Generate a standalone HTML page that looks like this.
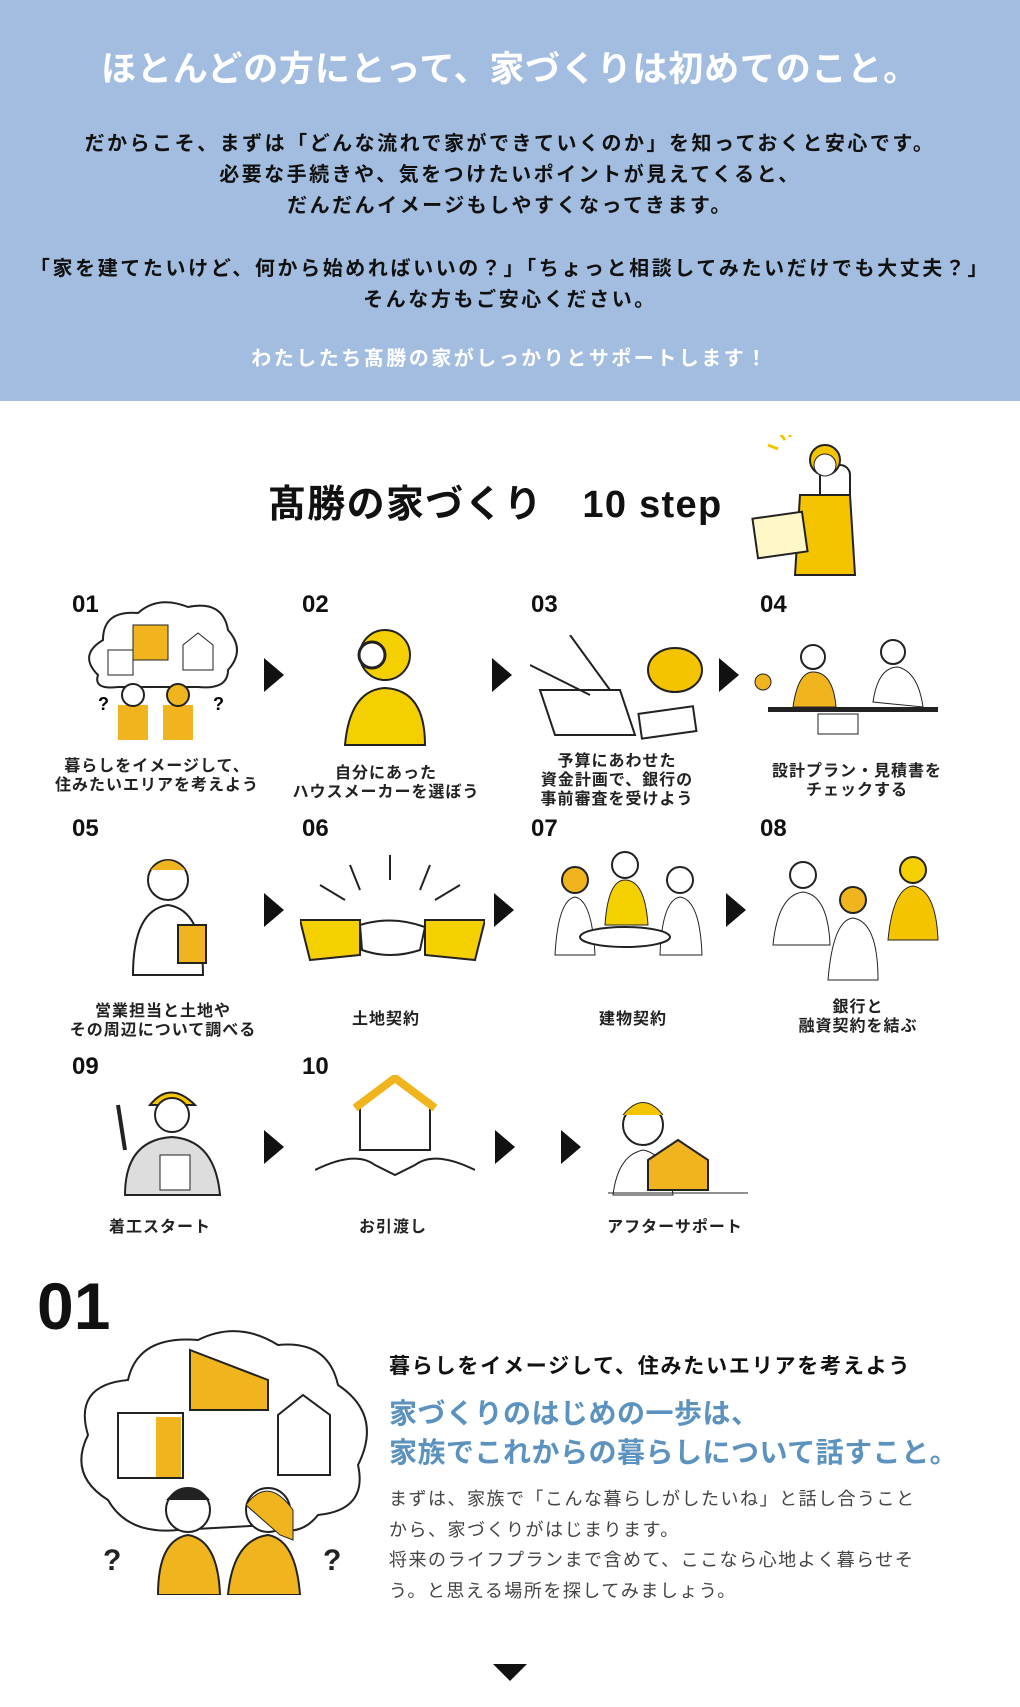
<!DOCTYPE html>
<html><head><meta charset="utf-8"><style>
*{margin:0;padding:0;box-sizing:border-box}
body{width:1020px;height:1707px;background:#fff;position:relative;overflow:hidden;font-family:"Liberation Sans","Noto Sans CJK JP",sans-serif;}
.top{position:absolute;left:0;top:0;width:1020px;height:401px;background:#a2bde0}
.c{position:absolute;left:0;width:1020px;text-align:center;white-space:nowrap}
.t{position:absolute;white-space:nowrap}
.num{position:absolute;font-size:24px;font-weight:bold;color:#111}
.lab{position:absolute;font-size:16px;font-weight:bold;color:#222;text-align:center;width:240px;line-height:19px;letter-spacing:1px}
.arr{position:absolute;width:0;height:0;border-top:17px solid transparent;border-bottom:17px solid transparent;border-left:20px solid #111}
svg{position:absolute}
</style></head><body>
<div class="top"></div>
<div class="c" style="top:41px;font-size:35px;font-weight:bold;color:#fff;letter-spacing:0.8px">ほとんどの方にとって、家づくりは初めてのこと。</div>
<div class="c" style="top:129px;font-size:20px;font-weight:bold;color:#111;line-height:31px;letter-spacing:2.5px">だからこそ、まずは「どんな流れで家ができていくのか」を知っておくと安心です。<br>必要な手続きや、気をつけたいポイントが見えてくると、<br>だんだんイメージもしやすくなってきます。</div>
<div class="c" style="top:254px;font-size:20px;font-weight:bold;color:#111;line-height:31px;letter-spacing:2.6px">「家を建てたいけど、何から始めればいいの？」「ちょっと相談してみたいだけでも大丈夫？」<br>そんな方もご安心ください。</div>
<div class="c" style="top:342px;font-size:20px;font-weight:bold;color:#fff;letter-spacing:2.5px">わたしたち髙勝の家がしっかりとサポートします！</div>

<div class="t" style="left:268px;top:473px;font-size:38px;font-weight:bold;color:#111;letter-spacing:1.3px">髙勝の家づくり　10 step</div>
<svg style="left:750px;top:435px" width="150" height="160"><rect x="70" y="30" width="30" height="110" rx="10" fill="none" stroke="#222" stroke-width="2"/><circle cx="75" cy="25" r="15" fill="#f5c400" stroke="#222" stroke-width="2"/><circle cx="75" cy="30" r="11" fill="#fff" stroke="#222"/><path d="M50 60 L100 60 L105 140 L45 140Z" fill="#f5c400" stroke="#222" stroke-width="2"/><rect x="5" y="80" width="50" height="40" fill="#fff7c8" stroke="#222" stroke-width="2" transform="rotate(-8 30 100)"/><path d="M35 5 l-6 -8 M28 14 l-10 -4 M40 2 l0 -6" stroke="#f5c400" stroke-width="3"/></svg>

<div class="num" style="left:72px;top:591px">01</div><div class="num" style="left:302px;top:591px">02</div><div class="num" style="left:531px;top:591px">03</div><div class="num" style="left:760px;top:591px">04</div>
<div class="num" style="left:72px;top:815px">05</div><div class="num" style="left:302px;top:815px">06</div><div class="num" style="left:531px;top:815px">07</div><div class="num" style="left:760px;top:815px">08</div>
<div class="num" style="left:72px;top:1053px">09</div><div class="num" style="left:302px;top:1053px">10</div>

<svg style="left:78px;top:595px" width="165" height="145"><path d="M20 80 Q0 60 25 45 Q25 15 60 18 Q80 0 110 12 Q145 5 150 35 Q168 55 150 75 Q150 95 120 92 L40 92 Q15 95 20 80Z" fill="#fff" stroke="#222" stroke-width="2"/><rect x="55" y="30" width="35" height="35" fill="#f0b51e" stroke="#222"/><rect x="30" y="55" width="25" height="25" fill="#fff" stroke="#222"/><path d="M105 50 l15 -12 l15 12 v25 h-30z" fill="#fff" stroke="#222"/><path d="M40 110 h30 v35 h-30z M85 110 h30 v35 h-30z" fill="#f0b51e"/><circle cx="55" cy="100" r="11" fill="#fff" stroke="#222" stroke-width="2"/><circle cx="100" cy="100" r="11" fill="#f0b51e" stroke="#222" stroke-width="2"/><text x="20" y="115" font-size="18" font-weight="bold">?</text><text x="135" y="115" font-size="18" font-weight="bold">?</text></svg>
<svg style="left:330px;top:620px" width="110" height="130"><circle cx="55" cy="35" r="25" fill="#f5d000" stroke="#222" stroke-width="2"/><circle cx="42" cy="35" r="13" fill="#fff" stroke="#222" stroke-width="3"/><path d="M15 125 Q20 70 55 68 Q95 70 95 125Z" fill="#f5d000" stroke="#222" stroke-width="2"/></svg>
<svg style="left:530px;top:635px" width="175" height="110"><path d="M10 55 L90 55 L105 100 L25 100Z" fill="#fff" stroke="#222" stroke-width="2"/><path d="M0 30 L60 60 M40 0 L80 55" stroke="#222" stroke-width="2" fill="none"/><ellipse cx="145" cy="35" rx="27" ry="22" fill="#f5c400" stroke="#222" stroke-width="2"/><rect x="110" y="75" width="55" height="25" fill="#fff" stroke="#222" stroke-width="2" transform="rotate(-8 137 88)"/></svg>
<svg style="left:748px;top:632px" width="210" height="110"><circle cx="65" cy="25" r="12" fill="#fff" stroke="#222" stroke-width="2"/><path d="M45 75 Q50 40 65 40 Q85 40 88 75Z" fill="#f0b51e" stroke="#222"/><circle cx="145" cy="20" r="12" fill="#fff" stroke="#222" stroke-width="2"/><path d="M125 70 Q130 35 150 35 Q170 40 175 75Z" fill="#fff" stroke="#222"/><rect x="20" y="75" width="170" height="5" fill="#222"/><rect x="70" y="82" width="40" height="20" fill="#fff" stroke="#222"/><circle cx="15" cy="50" r="8" fill="#f0b51e" stroke="#222"/></svg>

<div class="arr" style="left:264px;top:658px"></div><div class="arr" style="left:492px;top:658px"></div><div class="arr" style="left:719px;top:658px"></div>
<div class="lab" style="left:37px;top:757px">暮らしをイメージして、<br>住みたいエリアを考えよう</div>
<div class="lab" style="left:266px;top:764px">自分にあった<br>ハウスメーカーを選ぼう</div>
<div class="lab" style="left:497px;top:752px">予算にあわせた<br>資金計画で、銀行の<br>事前審査を受けよう</div>
<div class="lab" style="left:737px;top:762px">設計プラン・見積書を<br>チェックする</div>

<svg style="left:118px;top:850px" width="100" height="130"><circle cx="50" cy="30" r="20" fill="#fff" stroke="#222" stroke-width="2"/><path d="M32 20 Q50 0 68 20" fill="#f0b51e" stroke="#222"/><path d="M15 125 Q15 60 50 55 Q85 60 85 125Z" fill="#fff" stroke="#222" stroke-width="2"/><rect x="60" y="75" width="28" height="38" fill="#f0b51e" stroke="#222" stroke-width="2"/></svg>
<svg style="left:300px;top:855px" width="185" height="120"><path d="M50 10 l10 25 M90 0 v25 M130 10 l-10 25 M20 30 l25 15 M160 30 l-25 15" stroke="#222" stroke-width="2"/><path d="M0 65 L60 65 L60 100 L10 105Z" fill="#f5d000" stroke="#222" stroke-width="2"/><path d="M185 65 L125 65 L125 100 L175 105Z" fill="#f5d000" stroke="#222" stroke-width="2"/><path d="M60 70 Q92 60 125 72 L120 95 Q90 105 62 95Z" fill="#fff" stroke="#222" stroke-width="2"/></svg>
<svg style="left:530px;top:845px" width="190" height="130"><circle cx="45" cy="35" r="13" fill="#f0b51e" stroke="#222" stroke-width="2"/><circle cx="95" cy="20" r="13" fill="#fff" stroke="#222" stroke-width="2"/><path d="M75 80 Q78 35 95 35 Q115 35 118 80Z" fill="#f5d000" stroke="#222"/><circle cx="150" cy="35" r="13" fill="#fff" stroke="#222" stroke-width="2"/><path d="M130 110 Q132 55 150 52 Q170 55 172 110Z" fill="#fff" stroke="#222"/><path d="M25 110 Q28 55 45 52 Q62 55 65 110Z" fill="#fff" stroke="#222"/><ellipse cx="95" cy="92" rx="45" ry="10" fill="#fff" stroke="#222" stroke-width="2"/></svg>
<svg style="left:768px;top:850px" width="185" height="135"><circle cx="35" cy="25" r="13" fill="#fff" stroke="#222" stroke-width="2"/><path d="M5 95 Q10 45 35 42 Q60 45 62 95Z" fill="#fff" stroke="#222"/><circle cx="85" cy="50" r="13" fill="#f0b51e" stroke="#222" stroke-width="2"/><path d="M60 130 Q65 70 85 68 Q110 72 110 130Z" fill="#fff" stroke="#222"/><circle cx="145" cy="20" r="13" fill="#f5d000" stroke="#222" stroke-width="2"/><path d="M120 90 Q125 38 145 36 Q168 40 170 90Z" fill="#f5c400" stroke="#222"/></svg>
<div class="arr" style="left:264px;top:893px"></div><div class="arr" style="left:494px;top:893px"></div><div class="arr" style="left:726px;top:893px"></div>
<div class="lab" style="left:43px;top:1002px">営業担当と土地や<br>その周辺について調べる</div>
<div class="lab" style="left:266px;top:1010px">土地契約</div>
<div class="lab" style="left:513px;top:1010px">建物契約</div>
<div class="lab" style="left:738px;top:998px">銀行と<br>融資契約を結ぶ</div>

<svg style="left:110px;top:1075px" width="125" height="125"><path d="M40 30 Q60 5 85 30Z" fill="#f5c400" stroke="#222" stroke-width="2"/><circle cx="62" cy="40" r="17" fill="#fff" stroke="#222" stroke-width="2"/><path d="M15 120 Q15 65 62 62 Q105 65 110 120Z" fill="#ddd" stroke="#222" stroke-width="2"/><rect x="50" y="80" width="30" height="35" fill="#fff" stroke="#222"/><path d="M15 75 L8 30" stroke="#222" stroke-width="4"/></svg>
<svg style="left:315px;top:1075px" width="160" height="125"><path d="M45 30 L80 5 L115 30 L115 75 L45 75Z" fill="#fff" stroke="#222" stroke-width="2"/><path d="M40 33 L80 3 L120 33" stroke="#f0b51e" stroke-width="8" fill="none"/><path d="M0 95 Q40 75 60 90 L80 100 L100 90 Q120 75 160 95" stroke="#222" stroke-width="2" fill="none"/></svg>
<svg style="left:588px;top:1085px" width="160" height="115"><circle cx="55" cy="40" r="20" fill="#fff" stroke="#222" stroke-width="2"/><path d="M35 30 Q55 5 75 30" fill="#f5c400" stroke="#222"/><path d="M25 110 Q30 70 55 65 Q80 70 85 110Z" fill="#fff" stroke="#222"/><path d="M60 75 L90 55 L120 75 L120 105 L60 105Z" fill="#f0b51e" stroke="#222" stroke-width="2"/><path d="M20 108 H160" stroke="#222"/></svg>
<div class="arr" style="left:264px;top:1130px"></div><div class="arr" style="left:495px;top:1130px"></div><div class="arr" style="left:561px;top:1130px"></div>
<div class="lab" style="left:40px;top:1218px">着工スタート</div>
<div class="lab" style="left:273px;top:1218px">お引渡し</div>
<div class="lab" style="left:555px;top:1218px">アフターサポート</div>

<div class="t" style="left:37px;top:1268px;font-size:66px;font-weight:bold;color:#111">01</div>
<svg style="left:68px;top:1325px" width="315" height="270"><path d="M40 175 Q0 150 20 110 Q5 60 60 55 Q70 10 130 15 Q170 -5 210 20 Q260 15 270 60 Q315 90 290 140 Q300 185 250 190 Q230 215 200 200 L110 205 Q60 210 40 175Z" fill="#fff" stroke="#222" stroke-width="2"/><path d="M122 25 L200 55 L200 85 L122 85Z" fill="#f0b51e" stroke="#222" stroke-width="2"/><rect x="50" y="88" width="65" height="65" fill="#fff" stroke="#222" stroke-width="2"/><rect x="88" y="92" width="25" height="60" fill="#f0b51e"/><path d="M210 90 L235 70 L262 90 L262 150 L210 150Z" fill="#fff" stroke="#222" stroke-width="2"/><circle cx="120" cy="185" r="22" fill="#fff" stroke="#222" stroke-width="2"/><path d="M98 175 Q120 150 142 175" fill="#222"/><circle cx="200" cy="185" r="22" fill="#fff" stroke="#222" stroke-width="2"/><path d="M178 180 Q200 150 225 185 L225 215 L212 210Z" fill="#f0b51e" stroke="#222"/><path d="M90 270 Q90 215 120 210 Q150 215 152 270Z" fill="#f0b51e" stroke="#222" stroke-width="2"/><path d="M160 270 Q165 215 200 210 Q228 215 232 270Z" fill="#f0b51e" stroke="#222" stroke-width="2"/><text x="35" y="245" font-size="30" font-weight="bold" fill="#222">?</text><text x="255" y="245" font-size="30" font-weight="bold" fill="#222">?</text></svg>
<div class="t" style="left:389px;top:1350px;font-size:21px;font-weight:bold;color:#111;letter-spacing:1.8px">暮らしをイメージして、住みたいエリアを考えよう</div>
<div class="t" style="left:389px;top:1394px;font-size:28px;font-weight:bold;color:#5b92bf;line-height:39px;letter-spacing:0.5px">家づくりのはじめの一歩は、<br>家族でこれからの暮らしについて話すこと。</div>
<div class="t" style="left:389px;top:1484px;font-size:18px;color:#444;line-height:30.5px;letter-spacing:1.5px">まずは、家族で「こんな暮らしがしたいね」と話し合うこと<br>から、家づくりがはじまります。<br>将来のライフプランまで含めて、ここなら心地よく暮らせそ<br>う。と思える場所を探してみましょう。</div>
<div style="position:absolute;left:493px;top:1664px;width:0;height:0;border-left:17px solid transparent;border-right:17px solid transparent;border-top:17px solid #111"></div>
</body></html>
